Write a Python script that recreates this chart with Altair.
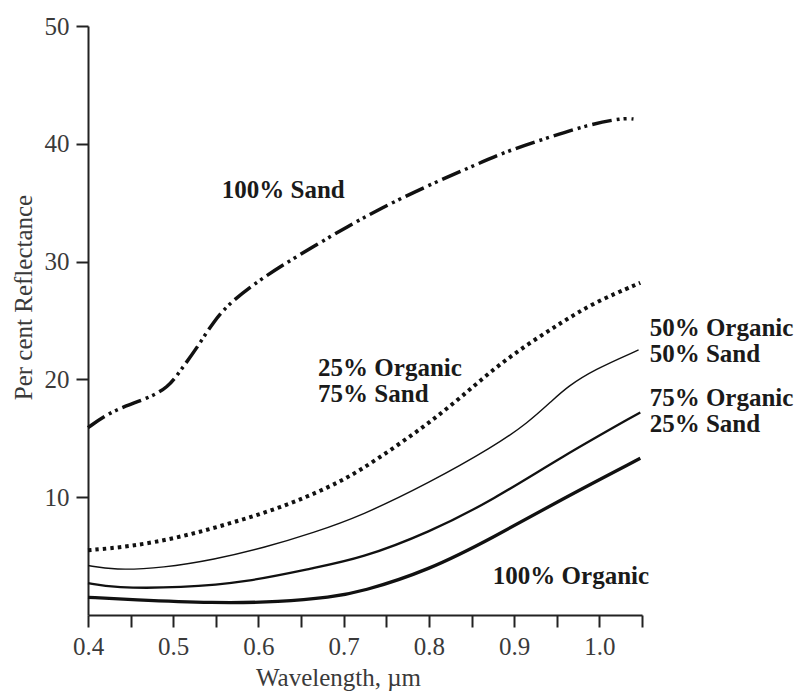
import altair as alt
import pandas as pd

# --- data ---
sand_wl = [0.40, 0.419, 0.442, 0.47, 0.494, 0.509, 0.529, 0.548, 0.568, 0.599, 0.626,
           0.665, 0.705, 0.743, 0.794, 0.845, 0.892, 0.939, 0.986, 1.028, 1.04]
sand_r = [15.9, 16.9, 17.7, 18.4, 19.3, 20.8, 22.8, 25.0, 26.6, 28.3, 29.6,
          31.3, 33.0, 34.5, 36.3, 37.9, 39.4, 40.5, 41.6, 42.2, 42.1]

o25_wl = [0.40, 0.449, 0.509, 0.568, 0.626, 0.685, 0.72, 0.761, 0.80, 0.838, 0.876,
          0.916, 0.955, 0.993, 1.048]
o25_r = [5.5, 5.8, 6.6, 7.8, 9.1, 10.9, 12.3, 14.3, 16.3, 18.5, 20.9,
         23.0, 24.8, 26.5, 28.2]

o50_wl = [0.40, 0.43, 0.489, 0.548, 0.606, 0.665, 0.72, 0.80, 0.876, 0.916, 0.946,
          0.963, 0.993, 1.046]
o50_r = [4.2, 3.8, 4.0, 4.7, 5.7, 7.0, 8.4, 11.2, 14.3, 16.3, 18.3, 19.4, 20.8, 22.5]

o75_wl = [0.40, 0.43, 0.509, 0.588, 0.665, 0.72, 0.80, 0.876, 0.955, 1.048]
o75_r = [2.7, 2.3, 2.3, 2.8, 4.0, 4.8, 7.0, 9.8, 13.4, 17.2]

o100_wl = [0.40, 0.45, 0.548, 0.626, 0.685, 0.72, 0.80, 0.876, 0.955, 1.048]
o100_r = [1.5, 1.3, 1.0, 1.1, 1.5, 1.95, 3.8, 6.6, 9.8, 13.3]

label_text = ["100% Sand", "25% Organic", "75% Sand", "50% Organic", "50% Sand",
              "75% Organic", "25% Sand", "100% Organic"]
label_wl = [0.557, 0.670, 0.670, 1.059, 1.059, 1.059, 1.059, 0.875]
label_r = [35.4, 20.3, 18.1, 23.7, 21.5, 17.7, 15.5, 2.6]

x_ticks = [0.40, 0.45, 0.50, 0.55, 0.60, 0.65, 0.70, 0.75, 0.80, 0.85, 0.90, 0.95, 1.00, 1.05]
y_ticks = [10, 20, 30, 40, 50]

FONT = "Liberation Serif"

xscale = alt.Scale(domain=[0.4, 1.05], nice=False, zero=False)
yscale = alt.Scale(domain=[0, 50], nice=False)

xaxis = alt.Axis(
    title="Wavelength, µm", values=x_ticks,
    labelExpr="abs(datum.value*10 - round(datum.value*10)) < 0.01 ? format(datum.value, '.1f') : ''",
    grid=False, tickSize=12, tickWidth=2, domainWidth=2, domainColor="#222", tickColor="#222",
    labelFont=FONT, labelFontSize=25, labelColor="#3a3a3a", labelPadding=7,
    titleFont=FONT, titleFontSize=25, titleFontWeight="normal", titleColor="#3a3a3a",
    titleX=250, titleY=70, titleBaseline="alphabetic", titleAnchor="start", titleAlign="center",
    labelFlush=False, labelOverlap=False,
)
yaxis = alt.Axis(
    title="Per cent Reflectance", values=y_ticks, format="d",
    grid=False, tickSize=12, tickWidth=2, domainWidth=2, domainColor="#222", tickColor="#222",
    labelFont=FONT, labelFontSize=25, labelColor="#3a3a3a", labelPadding=7,
    titleFont=FONT, titleFontSize=25, titleFontWeight="normal", titleColor="#3a3a3a",
    titleX=-65, titleY=271, titleBaseline="middle", titleAlign="center", titleAngle=270,
    labelFlush=False,
)


def line(wl, r, **style):
    df = pd.DataFrame({"wl": wl, "r": r})
    return alt.Chart(df).mark_line(interpolate="basis", color="#111", **style).encode(
        x=alt.X("wl:Q", scale=xscale, axis=xaxis),
        y=alt.Y("r:Q", scale=yscale, axis=yaxis),
    )


sand = line(sand_wl, sand_r, strokeWidth=3.5, strokeDash=[20, 5, 3, 4, 3, 5])
o25 = line(o25_wl, o25_r, strokeWidth=4, strokeDash=[3.5, 4])
o50 = line(o50_wl, o50_r, strokeWidth=1.4)
o75 = line(o75_wl, o75_r, strokeWidth=2.3)
o100 = line(o100_wl, o100_r, strokeWidth=3.3)

labels_df = pd.DataFrame({"t": label_text, "wl": label_wl, "r": label_r})
labels = alt.Chart(labels_df).mark_text(
    font=FONT, fontSize=25, fontWeight="bold", color="#1a1a1a",
    align="left", baseline="alphabetic",
).encode(
    x=alt.X("wl:Q", scale=xscale, axis=xaxis),
    y=alt.Y("r:Q", scale=yscale, axis=yaxis),
    text="t:N",
)

chart = alt.layer(sand, o25, o50, o75, o100, labels).properties(
    width=554, height=589,
    autosize=alt.AutoSizeParams(type="none"),
    padding={"left": 88, "top": 26, "right": 157, "bottom": 79},
    background="white",
).configure_view(stroke=None)

chart.save("out.html", embed_options={"renderer": "svg", "actions": False})
